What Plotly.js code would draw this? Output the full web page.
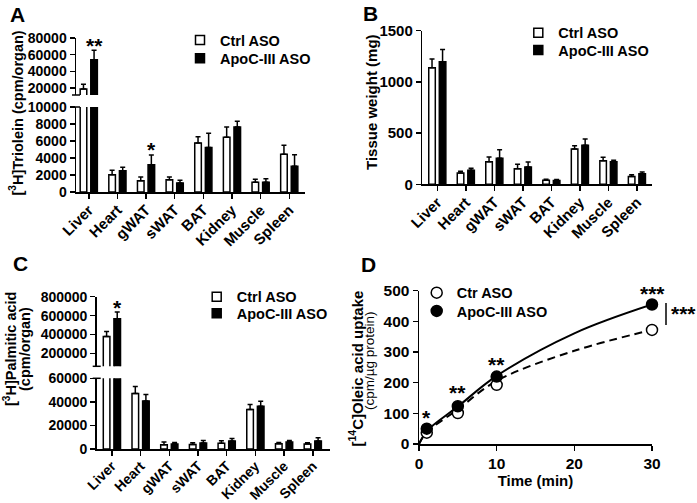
<!DOCTYPE html>
<html>
<head>
<meta charset="utf-8">
<script src="https://cdn.plot.ly/plotly-3.0.1.min.js"></script>
<style>html,body{margin:0;padding:0;background:#fff;}#chart{width:697px;height:503px;}</style>
</head>
<body>
<div id="chart"></div>
<script>
// ---------- data ----------
const tissues = ['Liver', 'Heart', 'gWAT', 'sWAT', 'BAT', 'Kidney', 'Muscle', 'Spleen'];
const seriesNames = ['Ctrl ASO', 'ApoC-III ASO'];
const seriesNamesD = ['Ctr ASO', 'ApoC-III ASO'];

// A: [3H]Triolein (cpm/organ)
const trioleinCtrl    = [18800, 2040, 1330, 1450, 5760, 6430, 1140, 4430];
const trioleinCtrlErr = [5600, 510, 430, 310, 750, 1220, 350, 1060];
const trioleinApo     = [54000, 2510, 3220, 1060, 5250, 7650, 1140, 3020];
const trioleinApoErr  = [11200, 390, 1130, 310, 1650, 670, 430, 1370];

// B: Tissue weight (mg)
const weightCtrl    = [1139, 111, 221, 153, 39, 345, 231, 75];
const weightCtrlErr = [85, 16, 46, 42, 10, 32, 33, 19];
const weightApo     = [1197, 137, 254, 169, 36, 381, 221, 104];
const weightApoErr  = [120, 20, 84, 49, 10, 62, 13, 16];

// C: [3H]Palmitic acid (cpm/organ)
const palmCtrl    = [380000, 47000, 3700, 3900, 4800, 33500, 4500, 4200];
const palmCtrlErr = [53000, 6000, 2200, 1400, 2200, 4200, 1100, 1100];
const palmApo     = [567000, 40800, 4200, 5100, 6800, 36300, 5900, 6800];
const palmApoErr  = [70000, 5400, 1400, 2200, 2200, 4200, 1400, 2800];

// D: [14C]Oleic acid uptake (cpm/ug protein)
const timeMin    = [1, 5, 10, 30];
const uptakeCtrl = [37, 101, 193, 372];
const uptakeApo  = [50, 123, 220, 455];
// fitted curves
const fitTime = [0, 1, 5, 10, 20, 30];
const fitCtrl = [0, 38, 113, 206, 304, 372];
const fitApo  = [0, 42, 122, 222, 361, 455];

// tick labels
const tickA_low = [0, 2000, 4000, 6000, 8000, 10000];
const tickA_up  = [20000, 40000, 60000, 80000];
const tickB     = [0, 500, 1000, 1500];
const tickC_low = [0, 20000, 40000, 60000];
const tickC_up  = [200000, 400000, 600000, 800000];
const tickD_x   = [0, 10, 20, 30];
const tickD_y   = [0, 100, 200, 300, 400, 500];

// ---------- helpers ----------
const W = 697, H = 503;
const fx = p => p / W;
const fy = p => 1 - p / H;
const FONT = 'Liberation Sans, Arial, Helvetica, sans-serif';
const BLACK = '#000';
const zeros = tissues.map(() => 0);
const liverOnly = arr => arr.map((v, i) => (i === 0 ? v : null));

function barTrace(vals, errs, filled, xa, ya) {
  return {
    type: 'bar', x: tissues, y: vals, xaxis: xa, yaxis: ya,
    width: 0.23, offset: filled ? 0.07 : -0.30,
    marker: {color: filled ? BLACK : '#fff', line: {color: BLACK, width: 1.5}},
    error_y: {type: 'data', symmetric: false, array: errs, arrayminus: zeros,
              color: BLACK, thickness: 1.5, width: 2.5, visible: true},
    showlegend: false, hoverinfo: 'skip'
  };
}
function legendKey(name, filled, legendId, xa, ya) {
  return {
    type: 'scatter', mode: 'markers', x: [null], y: [null], xaxis: xa, yaxis: ya,
    name: name, legend: legendId, showlegend: true,
    marker: {symbol: 'square', size: 9, color: filled ? BLACK : '#fff', line: {color: BLACK, width: 1.5}}
  };
}

const data = [
  // A lower and upper
  barTrace(trioleinCtrl, trioleinCtrlErr, false, 'x', 'y'),
  barTrace(trioleinApo, trioleinApoErr, true, 'x', 'y'),
  barTrace(liverOnly(trioleinCtrl), liverOnly(trioleinCtrlErr), false, 'x', 'y2'),
  barTrace(liverOnly(trioleinApo), liverOnly(trioleinApoErr), true, 'x', 'y2'),
  legendKey(seriesNames[0], false, 'legend', 'x', 'y'),
  legendKey(seriesNames[1], true, 'legend2', 'x', 'y'),
  // B
  barTrace(weightCtrl, weightCtrlErr, false, 'x2', 'y3'),
  barTrace(weightApo, weightApoErr, true, 'x2', 'y3'),
  legendKey(seriesNames[0], false, 'legend3', 'x2', 'y3'),
  legendKey(seriesNames[1], true, 'legend4', 'x2', 'y3'),
  // C lower and upper
  barTrace(palmCtrl, palmCtrlErr, false, 'x3', 'y4'),
  barTrace(palmApo, palmApoErr, true, 'x3', 'y4'),
  barTrace(liverOnly(palmCtrl), liverOnly(palmCtrlErr), false, 'x3', 'y5'),
  barTrace(liverOnly(palmApo), liverOnly(palmApoErr), true, 'x3', 'y5'),
  legendKey(seriesNames[0], false, 'legend5', 'x3', 'y4'),
  legendKey(seriesNames[1], true, 'legend6', 'x3', 'y4'),
  // D curves
  {type: 'scatter', mode: 'lines', x: fitTime, y: fitCtrl, xaxis: 'x4', yaxis: 'y6',
   line: {color: BLACK, width: 2, dash: '8px,5px', shape: 'spline', smoothing: 1}, showlegend: false, hoverinfo: 'skip'},
  {type: 'scatter', mode: 'lines', x: fitTime, y: fitApo, xaxis: 'x4', yaxis: 'y6',
   line: {color: BLACK, width: 2, shape: 'spline', smoothing: 1}, showlegend: false, hoverinfo: 'skip'},
  {type: 'scatter', mode: 'markers', x: timeMin, y: uptakeCtrl, xaxis: 'x4', yaxis: 'y6',
   name: seriesNamesD[0], legend: 'legend7', cliponaxis: false,
   marker: {symbol: 'circle', size: 11, color: '#fff', line: {color: BLACK, width: 1.5}}},
  {type: 'scatter', mode: 'markers', x: timeMin, y: uptakeApo, xaxis: 'x4', yaxis: 'y6',
   name: seriesNamesD[1], legend: 'legend8', cliponaxis: false,
   marker: {symbol: 'circle', size: 11, color: BLACK, line: {color: BLACK, width: 1.5}}}
];

function catAxis(domain, anchor, range, size) {
  return {
    domain: domain, anchor: anchor, type: 'category', range: range,
    tickangle: -45, ticks: 'outside', ticklen: 5, tickwidth: 1.5, tickcolor: BLACK,
    ticklabelstandoff: -3,
    showline: true, linewidth: 1.5, linecolor: BLACK, showgrid: false, zeroline: false,
    tickfont: {family: FONT, size: size, color: BLACK, weight: 'bold'}, fixedrange: true
  };
}
function valAxis(domain, anchor, range, tickvals, size) {
  return {
    domain: domain, anchor: anchor, range: range, tickmode: 'array', tickvals: tickvals,
    ticktext: tickvals.map(v => String(v)),
    ticks: 'outside', ticklen: 5, tickwidth: 1.5, tickcolor: BLACK,
    showline: true, linewidth: 1.5, linecolor: BLACK, showgrid: false, zeroline: false,
    tickfont: {family: FONT, size: size, color: BLACK, weight: 'bold'}, fixedrange: true
  };
}
function legendAt(textX, rowY) {
  return {
    x: fx(textX - 40), xanchor: 'left', y: fy(rowY), yanchor: 'middle',
    bgcolor: 'rgba(0,0,0,0)', borderwidth: 0, itemclick: false, itemdoubleclick: false,
    font: {family: FONT, size: 14.5, color: BLACK, weight: 'bold'}
  };
}
function ann(text, xref, yref, x, y, size, opts) {
  return Object.assign({
    text: text, xref: xref, yref: yref, x: x, y: y, showarrow: false,
    xanchor: 'center', yanchor: 'middle',
    font: {family: FONT, size: size, color: BLACK, weight: 'bold'}
  }, opts || {});
}

const layout = {
  width: W, height: H, margin: {l: 0, r: 0, t: 0, b: 0},
  paper_bgcolor: '#fff', plot_bgcolor: 'rgba(0,0,0,0)',
  barmode: 'overlay', showlegend: true,
  font: {family: FONT, color: BLACK},
  // A
  xaxis: catAxis([fx(76), fx(305)], 'y', [-0.446, 7.55], 15),
  yaxis: valAxis([fy(192), fy(107)], 'x', [0, 10000], tickA_low, 14),
  yaxis2: valAxis([fy(95), fy(38)], 'x', [11600, 80000], tickA_up, 14),
  // B
  xaxis2: catAxis([fx(422.3), fx(652.3)], 'y3', [-0.526, 7.54], 15),
  yaxis3: valAxis([fy(184.3), fy(30.7)], 'x2', [0, 1500], tickB, 15),
  // C
  xaxis3: catAxis([fx(96.7), fx(330)], 'y4', [-0.53, 7.6], 14),
  yaxis4: valAxis([fy(449), fy(378.3)], 'x3', [0, 60000], tickC_low, 14),
  yaxis5: valAxis([fy(366.3), fy(296.7)], 'x3', [63500, 800000], tickC_up, 14),
  // D
  xaxis4: Object.assign(valAxis([fx(419), fx(652)], 'y6', [0, 30], tickD_x, 15.5),
    {title: {text: 'Time (min)', font: {family: FONT, size: 15, color: BLACK, weight: 'bold'}, standoff: 4}}),
  yaxis6: valAxis([fy(444), fy(290.7)], 'x4', [0, 500], tickD_y, 15.5),
  legend: legendAt(220, 40),
  legend2: legendAt(220, 58.3),
  legend3: legendAt(558.3, 32.7),
  legend4: legendAt(558.3, 50),
  legend5: legendAt(236.7, 296.7),
  legend6: legendAt(236.7, 313.3),
  legend7: legendAt(456.7, 292.7),
  legend8: legendAt(456.7, 311),
  shapes: [
    // axis break caps A
    {type: 'line', xref: 'paper', yref: 'paper', x0: fx(72), x1: fx(80), y0: fy(95), y1: fy(95), line: {color: BLACK, width: 1.5}},
    {type: 'line', xref: 'paper', yref: 'paper', x0: fx(72), x1: fx(80), y0: fy(107), y1: fy(107), line: {color: BLACK, width: 1.5}},
    // axis break caps C
    {type: 'line', xref: 'paper', yref: 'paper', x0: fx(92.7), x1: fx(100.7), y0: fy(366.3), y1: fy(366.3), line: {color: BLACK, width: 1.5}},
    {type: 'line', xref: 'paper', yref: 'paper', x0: fx(92.7), x1: fx(100.7), y0: fy(378.3), y1: fy(378.3), line: {color: BLACK, width: 1.5}},
    // D significance bracket
    {type: 'line', xref: 'paper', yref: 'paper', x0: fx(666), x1: fx(666), y0: fy(303), y1: fy(325), line: {color: BLACK, width: 1.5}}
  ],
  annotations: [
    // panel letters
    ann('A', 'paper', 'paper', fx(17.5), fy(14), 21),
    ann('B', 'paper', 'paper', fx(370.5), fy(13.5), 21),
    ann('C', 'paper', 'paper', fx(20.5), fy(263), 21),
    ann('D', 'paper', 'paper', fx(368.5), fy(264), 21),
    // y titles
    ann('[<sup>3</sup>H]Triolein (cpm/organ)', 'paper', 'paper', fx(16), fy(113.5), 14.5, {textangle: -90}),
    ann('Tissue weight (mg)', 'paper', 'paper', fx(371), fy(102), 15, {textangle: -90}),
    ann('[<sup>3</sup>H]Palmitic acid', 'paper', 'paper', fx(10), fy(349), 14.5, {textangle: -90}),
    ann('(cpm/organ)', 'paper', 'paper', fx(25), fy(349), 14.5, {textangle: -90}),
    ann('[<sup>14</sup>C]Oleic acid uptake', 'paper', 'paper', fx(356), fy(368.5), 15, {textangle: -90}),
    ann('(cpm/µg protein)', 'paper', 'paper', fx(369), fy(361), 13.5,
        {textangle: -90, font: {family: FONT, size: 13.5, color: BLACK, weight: 'normal'}}),
    // significance stars
    ann('**', 'x', 'y2', 0.185, 71500, 21),
    ann('*', 'x', 'y', 2.185, 4950, 21),
    ann('*', 'x3', 'y5', 0.185, 690000, 21),
    ann('*', 'x4', 'y6', 1, 85, 21),
    ann('**', 'x4', 'y6', 5, 168, 21),
    ann('**', 'x4', 'y6', 10, 259, 21),
    ann('***', 'x4', 'y6', 30, 492, 21),
    ann('***', 'paper', 'paper', fx(683), fy(313.5), 21)
  ]
};

Plotly.newPlot('chart', data, layout, {staticPlot: true, displayModeBar: false});
</script>
</body>
</html>
